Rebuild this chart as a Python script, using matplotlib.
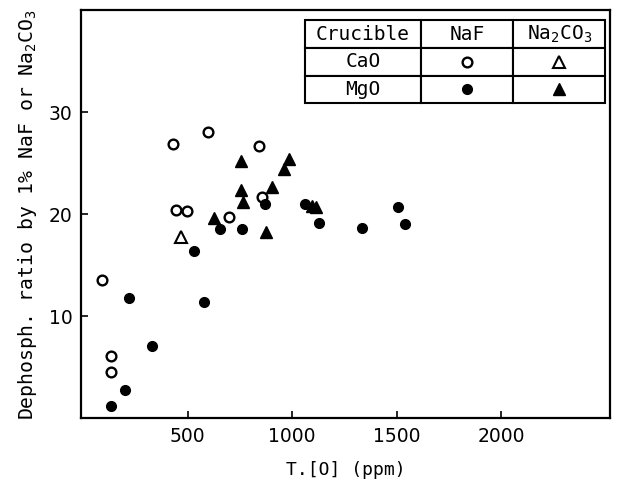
import numpy as np
import matplotlib.pyplot as plt

plt.rcParams['font.family'] = 'DejaVu Sans Mono'
plt.rcParams['mathtext.fontset'] = 'custom'
plt.rcParams['mathtext.rm'] = 'DejaVu Sans Mono'

# CaO crucible, NaF flux (open circles)
cao_naf_x = [91, 133, 133, 428, 445, 497, 599, 698, 841, 858]
cao_naf_y = [13.5, 6.1, 4.5, 26.9, 20.4, 20.3, 28.1, 19.7, 26.7, 21.7]
# CaO crucible, Na2CO3 flux (open triangle)
cao_na2co3_x = [468]
cao_na2co3_y = [17.8]
# MgO crucible, NaF flux (filled circles)
mgo_naf_x = [135, 202, 220, 329, 531, 578, 655, 761, 870, 1063, 1129, 1334, 1508, 1540]
mgo_naf_y = [1.2, 2.8, 11.8, 7.1, 16.4, 11.4, 18.5, 18.5, 21.0, 21.0, 19.1, 18.6, 20.75, 19.0]
# MgO crucible, Na2CO3 flux (filled triangles)
mgo_na2co3_x = [624, 756, 756, 766, 873, 902, 960, 983, 1097, 1114]
mgo_na2co3_y = [19.6, 25.2, 22.4, 21.2, 18.3, 22.7, 24.4, 25.4, 20.8, 20.7]

xticks = [500, 1000, 1500, 2000]
yticks = [10, 20, 30]

fig = plt.figure(figsize=(6.19, 4.84), dpi=100)
ax = fig.add_axes([0.131, 0.136, 0.854, 0.843])

ax.plot(cao_naf_x, cao_naf_y, 'o', ms=7, mfc='white', mec='black', mew=1.7, ls='none')
ax.plot(cao_na2co3_x, cao_na2co3_y, '^', ms=8, mfc='white', mec='black', mew=1.5, ls='none')
ax.plot(mgo_naf_x, mgo_naf_y, 'o', ms=7, color='black', ls='none')
ax.plot(mgo_na2co3_x, mgo_na2co3_y, '^', ms=9, color='black', ls='none')

ax.set_xlim(-10, 2520)
ax.set_ylim(0, 40)
ax.set_xticks(xticks)
ax.set_yticks(yticks)
ax.set_xticklabels([str(v) for v in xticks], fontfamily='DejaVu Sans', fontsize=13.5)
ax.set_yticklabels([str(v) for v in yticks], fontfamily='DejaVu Sans', fontsize=13.5)
ax.tick_params(direction='in', length=5, width=1.2, pad=6)
for s in ax.spines.values():
    s.set_linewidth(1.6)

ax.set_xlabel('T.[O] (ppm)', fontsize=13, labelpad=11)
ax.set_ylabel('Dephosph. ratio by 1% NaF or Na$_2$CO$_3$', fontsize=14.2, labelpad=7)

# legend table
tx, ty, tw, th = 0.423, 0.772, 0.569, 0.203
cw = [0.388, 0.306, 0.306]
tab = ax.table(cellText=[['Crucible', 'NaF', 'Na$_2$CO$_3$'],
                         ['CaO', '', ''],
                         ['MgO', '', '']],
               colWidths=cw, cellLoc='center', bbox=[tx, ty, tw, th])
tab.auto_set_font_size(False)
for (r, c), cell in tab.get_celld().items():
    cell.set_linewidth(1.5)
    cell.set_facecolor('white')
    cell.get_text().set_fontsize(14)

cx2 = tx + tw * (cw[0] + cw[1] / 2)
cx3 = tx + tw * (cw[0] + cw[1] + cw[2] / 2)
rh = th / 3
ry2 = ty + th - rh * 1.5
ry3 = ty + th - rh * 2.5
ax.plot([cx2], [ry2], 'o', ms=7, mfc='white', mec='black', mew=1.7, transform=ax.transAxes)
ax.plot([cx3], [ry2], '^', ms=8, mfc='white', mec='black', mew=1.5, transform=ax.transAxes)
ax.plot([cx2], [ry3], 'o', ms=7, color='black', transform=ax.transAxes)
ax.plot([cx3], [ry3], '^', ms=9, color='black', transform=ax.transAxes)

fig.savefig('out.png', dpi=100)
